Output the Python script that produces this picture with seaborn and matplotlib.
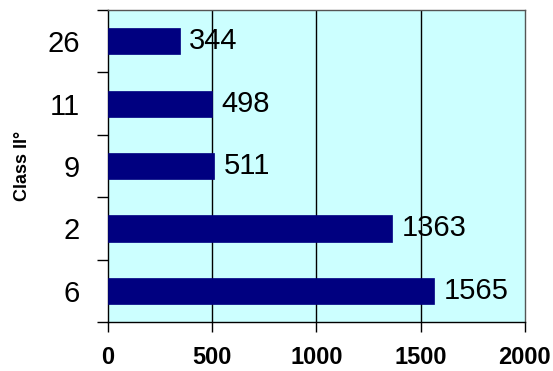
import matplotlib
matplotlib.use("Agg")
import matplotlib.pyplot as plt
import seaborn as sns
import numpy as np

# Datos del gráfico (de arriba hacia abajo)
clases = ["26", "11", "9", "2", "6"]
valores = [344, 498, 511, 1363, 1565]
x_ticks = [0, 500, 1000, 1500, 2000]

sns.set_style("white")
plt.rcParams["font.family"] = ["Liberation Sans", "DejaVu Sans"]
plt.rcParams["text.color"] = "black"
plt.rcParams["axes.labelcolor"] = "black"
plt.rcParams["xtick.color"] = "black"
plt.rcParams["ytick.color"] = "black"

fig = plt.figure(figsize=(5.53, 3.71), dpi=100)
ax = fig.add_axes([0.195, 0.132, 0.754, 0.841])
ax.set_facecolor("#CCFFFF")

sns.barplot(x=valores, y=clases, order=clases, orient="h", color="#000080",
            saturation=1, width=0.42, ax=ax, zorder=3,
            edgecolor="#000080", linewidth=0.5)

# Etiquetas de valores
for cont in ax.containers:
    ax.bar_label(cont, labels=[str(v) for v in valores], padding=7,
                 fontsize=21, color="black", zorder=4)

ax.set_xlim(0, 2000)
ax.set_xticks(x_ticks)
ax.set_xticklabels([str(t) for t in x_ticks], fontsize=17, fontweight="bold")
ax.tick_params(axis="x", direction="out", length=7, width=1, pad=10,
               bottom=True, color="black", labelcolor="black")

# Ticks del eje y en los bordes de categoría
ax.set_yticks(np.arange(len(clases)))
ax.set_yticklabels(clases, fontsize=21)
ax.set_yticks(np.arange(len(clases) + 1) - 0.5, minor=True)
ax.tick_params(axis="y", which="major", length=0, pad=20, labelcolor="black")
ax.tick_params(axis="y", which="minor", direction="out", length=8, width=1,
               left=True, color="black")

# Líneas de cuadrícula verticales
ax.grid(False)
for t in x_ticks[1:-1]:
    ax.axvline(t, color="black", linewidth=1, zorder=1)

ax.set_ylabel("Class II°", fontsize=13, fontweight="bold", labelpad=12,
              color="black")
ax.set_xlabel("")

for side in ["left", "bottom"]:
    ax.spines[side].set_color("black")
    ax.spines[side].set_linewidth(1)
for side in ["top", "right"]:
    ax.spines[side].set_visible(True)
    ax.spines[side].set_color("#555555")
    ax.spines[side].set_linewidth(1)

fig.savefig("out.png", dpi=100)
